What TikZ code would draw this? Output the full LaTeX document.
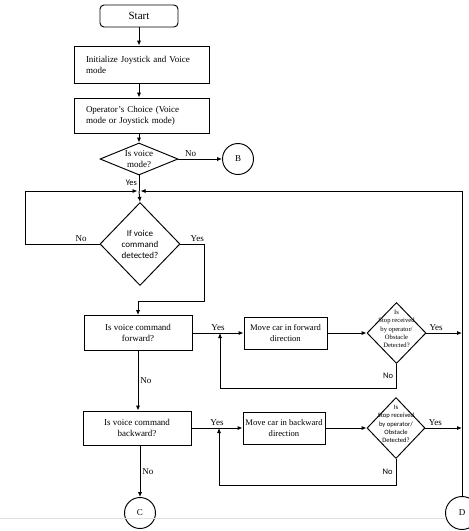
\documentclass[tikz,border=0pt]{standalone}
\usepackage{fontspec}
\setmainfont{Liberation Serif}
\newfontfamily\calibri{Carlito}
\usetikzlibrary{shapes.geometric,arrows.meta}

\begin{document}
\begin{tikzpicture}[x=1pt,y=-1pt,line width=0.95pt,>={Latex[length=5pt,width=4.2pt]},
		process/.style={draw, rectangle, inner sep=0pt, align=center, font=\fontsize{9}{11}\selectfont},
		decision/.style={draw, diamond, inner sep=0pt},
		connector/.style={draw, circle, inner sep=0pt, minimum size=31pt, font=\fontsize{9}{11}\selectfont},
		lbl/.style={font=\fontsize{9}{11}\selectfont, inner sep=2pt},
		slbl/.style={font=\calibri\fontsize{8.5}{10}\selectfont, inner sep=3pt},
		inside/.style={align=center, inner sep=0pt, font=\fontsize{9}{11.5}\selectfont},
		tinyinside/.style={align=center, inner sep=0pt, yshift=4pt, font=\fontsize{6.6}{8.2}\selectfont}]
		\useasboundingbox (0,0) rectangle (469,531);
		\node (start) [process, rounded corners=4pt, minimum width=78pt, minimum height=22pt, font=\fontsize{11}{13}\selectfont] at (139,16) {Start};
		\node (init) [process, minimum width=135pt, minimum height=37pt, text width=111pt, align=left] at (141.5,64.5) {Initialize Joystick and Voice\\mode};
		\node (choice) [process, minimum width=135pt, minimum height=35pt, text width=111pt, align=left] at (141.5,115.5) {Operator’s Choice (Voice\\mode or Joystick mode)};
		\node (voice) [decision, minimum width=78pt, minimum height=32pt, label={[inside]center:Is voice\\mode?}] at (139,159) {};
		\node (B) [connector] at (238,159) {B};
		\coordinate (merge) at (139,191);
		\node (detect) [decision, minimum width=80pt, minimum height=83pt, label={[inside, font=\calibri\fontsize{9}{11}\selectfont]center:If voice\\command\\detected?}] at (140,244) {};
		\node (fwd) [process, minimum width=108pt, minimum height=35pt] at (138,333) {Is voice command\\forward?};
		\node (movef) [process, minimum width=83pt, minimum height=32pt, font=\fontsize{8.6}{11}\selectfont] at (285.5,333) {Move car in forward\\direction};
		\node (stopf) [decision, minimum width=59pt, minimum height=61pt, label={[tinyinside]center:Is\\Stop received\\by operator/\\Obstacle\\Detected?}] at (396.5,333) {};
		\node (back) [process, minimum width=108pt, minimum height=34pt] at (137,428) {Is voice command\\backward?};
		\node (moveb) [process, minimum width=82pt, minimum height=32pt, font=\fontsize{8.6}{11}\selectfont] at (284,428) {Move car in backward\\direction};
		\node (stopb) [decision, minimum width=58pt, minimum height=61pt, label={[tinyinside, font=\calibri\fontsize{6.6}{8.2}\selectfont]center:Is\\Stop received\\by operator/\\Obstacle\\Detected?}] at (396,428) {};
		\node (C) [connector] at (140,513) {C};
		\node (D) [connector, minimum size=33pt] at (462,513) {D};
		\coordinate (jf) at (220,333);
		\coordinate (jb) at (219,428);
		\coordinate (edge) at (0,518);

		\draw[->] (start.south) -- (start.south |- init.north);
		\draw[->] (init.south -| start) -- (choice.north -| start);
		\draw[->] (choice.south -| voice) -- (voice.north);
		\draw[->] (voice.east) -- node[lbl, above, pos=.28] {No} (B.west);
		\draw (voice.south) -- node[slbl, left, inner sep=1.5pt] {Yes} (merge);
		\draw[->] (merge) -- (detect.north);
		\draw[->] (detect.west) -- node[lbl, above, pos=.25] {No} ++(-74,0) |- ([xshift=-1.5pt]merge);
		\draw[->] (D.north) |- ([xshift=1.5pt]merge);
		\draw[->] (detect.east) -- node[lbl, above, pos=.7] {Yes} ++(24,0) |- ([yshift=14pt]fwd.north) -- (fwd.north);

		\draw[->] (fwd.east) -- node[lbl, above] {Yes} (movef.west);
		\draw[->] (movef.east) -- (stopf.west);
		\draw[->] (stopf.east) -- node[lbl, above, pos=.27] {Yes} (stopf.east -| D.north);
		\draw[->] (stopf.south) -- node[slbl, left] {No} ++(0,24) -| (jf);
		\draw[->] (fwd.south) -- node[lbl, right] {No} (fwd.south |- back.north);

		\draw[->] (back.east) -- node[lbl, above] {Yes} (moveb.west);
		\draw[->] (moveb.east) -- (stopb.west);
		\draw[->] (stopb.east) -- node[lbl, above, pos=.27] {Yes} (stopb.east -| D.north);
		\draw[->] (stopb.south) -- node[slbl, left] {No} ++(0,26) -| (jb);
		\draw[->] (back.south -| C) -- node[lbl, right] {No} (C.north);

		\draw[black!12, line width=0.5pt] (edge) -- (edge -| D.west);
	\end{tikzpicture}
\end{document}
